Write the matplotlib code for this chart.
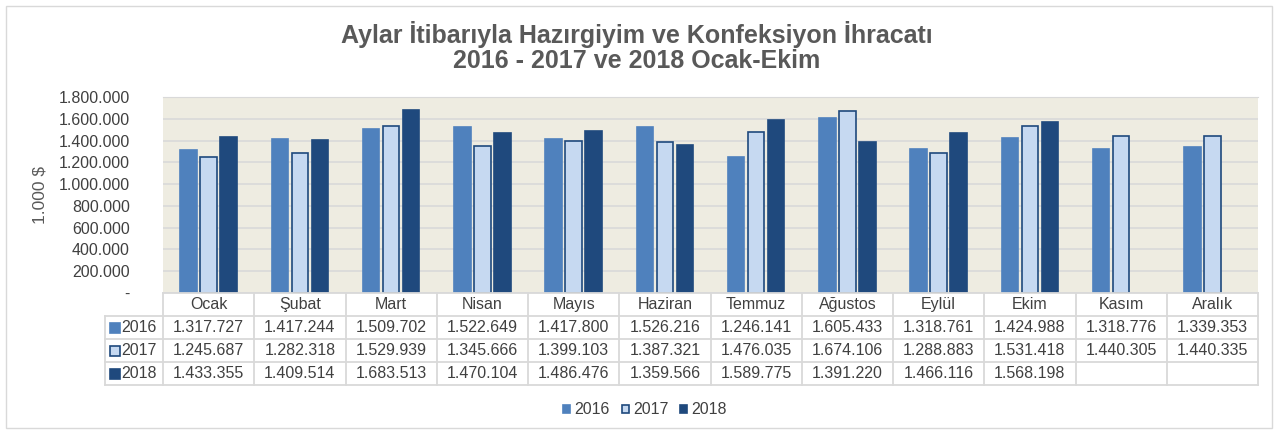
import numpy as np
import matplotlib
matplotlib.use("Agg")
import matplotlib.pyplot as plt
from matplotlib.patches import Rectangle
from matplotlib.lines import Line2D
from matplotlib.transforms import blended_transform_factory

plt.rcParams["font.family"] = ["Liberation Sans", "DejaVu Sans"]

TITLE = "Aylar İtibarıyla Hazırgiyim ve Konfeksiyon İhracatı\n2016 - 2017 ve 2018 Ocak-Ekim"
Y_LABEL = "1.000 $"

months = ["Ocak", "Şubat", "Mart", "Nisan", "Mayıs", "Haziran",
          "Temmuz", "Ağustos", "Eylül", "Ekim", "Kasım", "Aralık"]
years = ["2016", "2017", "2018"]

v2016 = [1317727, 1417244, 1509702, 1522649, 1417800, 1526216,
         1246141, 1605433, 1318761, 1424988, 1318776, 1339353]
v2017 = [1245687, 1282318, 1529939, 1345666, 1399103, 1387321,
         1476035, 1674106, 1288883, 1531418, 1440305, 1440335]
v2018 = [1433355, 1409514, 1683513, 1470104, 1486476, 1359566,
         1589775, 1391220, 1466116, 1568198, None, None]

yticks = [0, 200000, 400000, 600000, 800000, 1000000,
          1200000, 1400000, 1600000, 1800000]

faces = ["#4F81BD", "#C6D9F1", "#1F497D"]
edges = ["#4F81BD", "#1F497D", "#1F497D"]
TXT = "#404040"
GRID = "#D9D9D9"

W, H = 1274, 432


def fx(px):
    return px / W


def fy(py):
    return 1 - py / H


def fmt(v):
    if v is None:
        return ""
    if v == 0:
        return "-"
    return f"{v:,.0f}".replace(",", ".")


fig = plt.figure(figsize=(W / 100, H / 100), dpi=100)
fig.patch.set_facecolor("white")
fig.add_artist(Rectangle((fx(6), fy(428)), fx(1266), 1 - fy(422),
                         transform=fig.transFigure, fill=False,
                         edgecolor="#D9D9D9", lw=1))

ax = fig.add_axes([fx(163), fy(293), fx(1258 - 163), fy(97) - fy(293)])
ax.set_facecolor("#EEECE1")

x = np.arange(len(months))
series = [v2016, v2017, v2018]
bw = 0.18
for i, vals in enumerate(series):
    arr = np.array([np.nan if v is None else v for v in vals], dtype=float)
    ax.bar(x + (i - 1) * 0.22, arr, width=bw, color=faces[i],
           edgecolor=edges[i], linewidth=1.2, zorder=3)

ax.set_xlim(-0.5, len(months) - 0.5)
ax.set_ylim(0, 1800000)
ax.set_yticks(yticks)
ax.set_yticklabels([fmt(v) for v in yticks], fontsize=11.5, color=TXT)
ax.tick_params(axis="y", length=0, pad=24)
ax.set_xticks([])
ax.grid(axis="y", color=GRID, lw=1.2, zorder=0)
for s in ax.spines.values():
    s.set_visible(False)
ax.spines["top"].set_visible(True)
ax.spines["top"].set_color(GRID)

fig.text(fx(40), fy(195), Y_LABEL, rotation=90, ha="center", va="center",
         fontsize=12.5, color="#595959")
fig.text(0.5, fy(47), TITLE, ha="center", va="center", fontsize=18,
         fontweight="bold", color="#595959", linespacing=1.05)

# data table under the axis
tr = blended_transform_factory(ax.transData, fig.transFigure)
row_y = [293, 316, 339, 362, 385]
left_px = 105
for k in range(len(row_y)):
    x0 = fx(163) if k == 0 else fx(left_px)
    fig.add_artist(Line2D([x0, fx(1258)], [fy(row_y[k])] * 2,
                          transform=fig.transFigure, color=GRID, lw=1.3))
for j in range(len(months) + 1):
    fig.add_artist(Line2D([j - 0.5] * 2, [fy(293), fy(385)], transform=tr,
                          color=GRID, lw=1.3))
fig.add_artist(Line2D([fx(left_px)] * 2, [fy(316), fy(385)],
                      transform=fig.transFigure, color=GRID, lw=1.3))

for j, m in enumerate(months):
    ax.text(j, fy(304.5), m, transform=tr, ha="center", va="center",
            fontsize=11.5, color=TXT)
    for i, vals in enumerate(series):
        ax.text(j, fy((row_y[i + 1] + row_y[i + 2]) / 2), fmt(vals[j]),
                transform=tr, ha="center", va="center", fontsize=11.5,
                color=TXT)

for i, yr in enumerate(years):
    yc = fy((row_y[i + 1] + row_y[i + 2]) / 2)
    fig.add_artist(Line2D([fx(115)], [yc], marker="s", ms=6.5,
                          mfc=faces[i], mec=edges[i], mew=1.2,
                          transform=fig.transFigure))
    fig.text(fx(121), yc, yr, ha="left", va="center", fontsize=11.5, color=TXT)

handles = [Rectangle((0, 0), 1, 1, facecolor=faces[i], edgecolor=edges[i], lw=1.2)
           for i in range(3)]
fig.legend(handles, years, loc="center", bbox_to_anchor=(fx(645), fy(410)),
           ncol=3, frameon=False, fontsize=11.5, handlelength=0.45,
           handleheight=0.45, handletextpad=0.25, columnspacing=0.75,
           labelcolor=TXT)

fig.savefig("out.png", dpi=100)
